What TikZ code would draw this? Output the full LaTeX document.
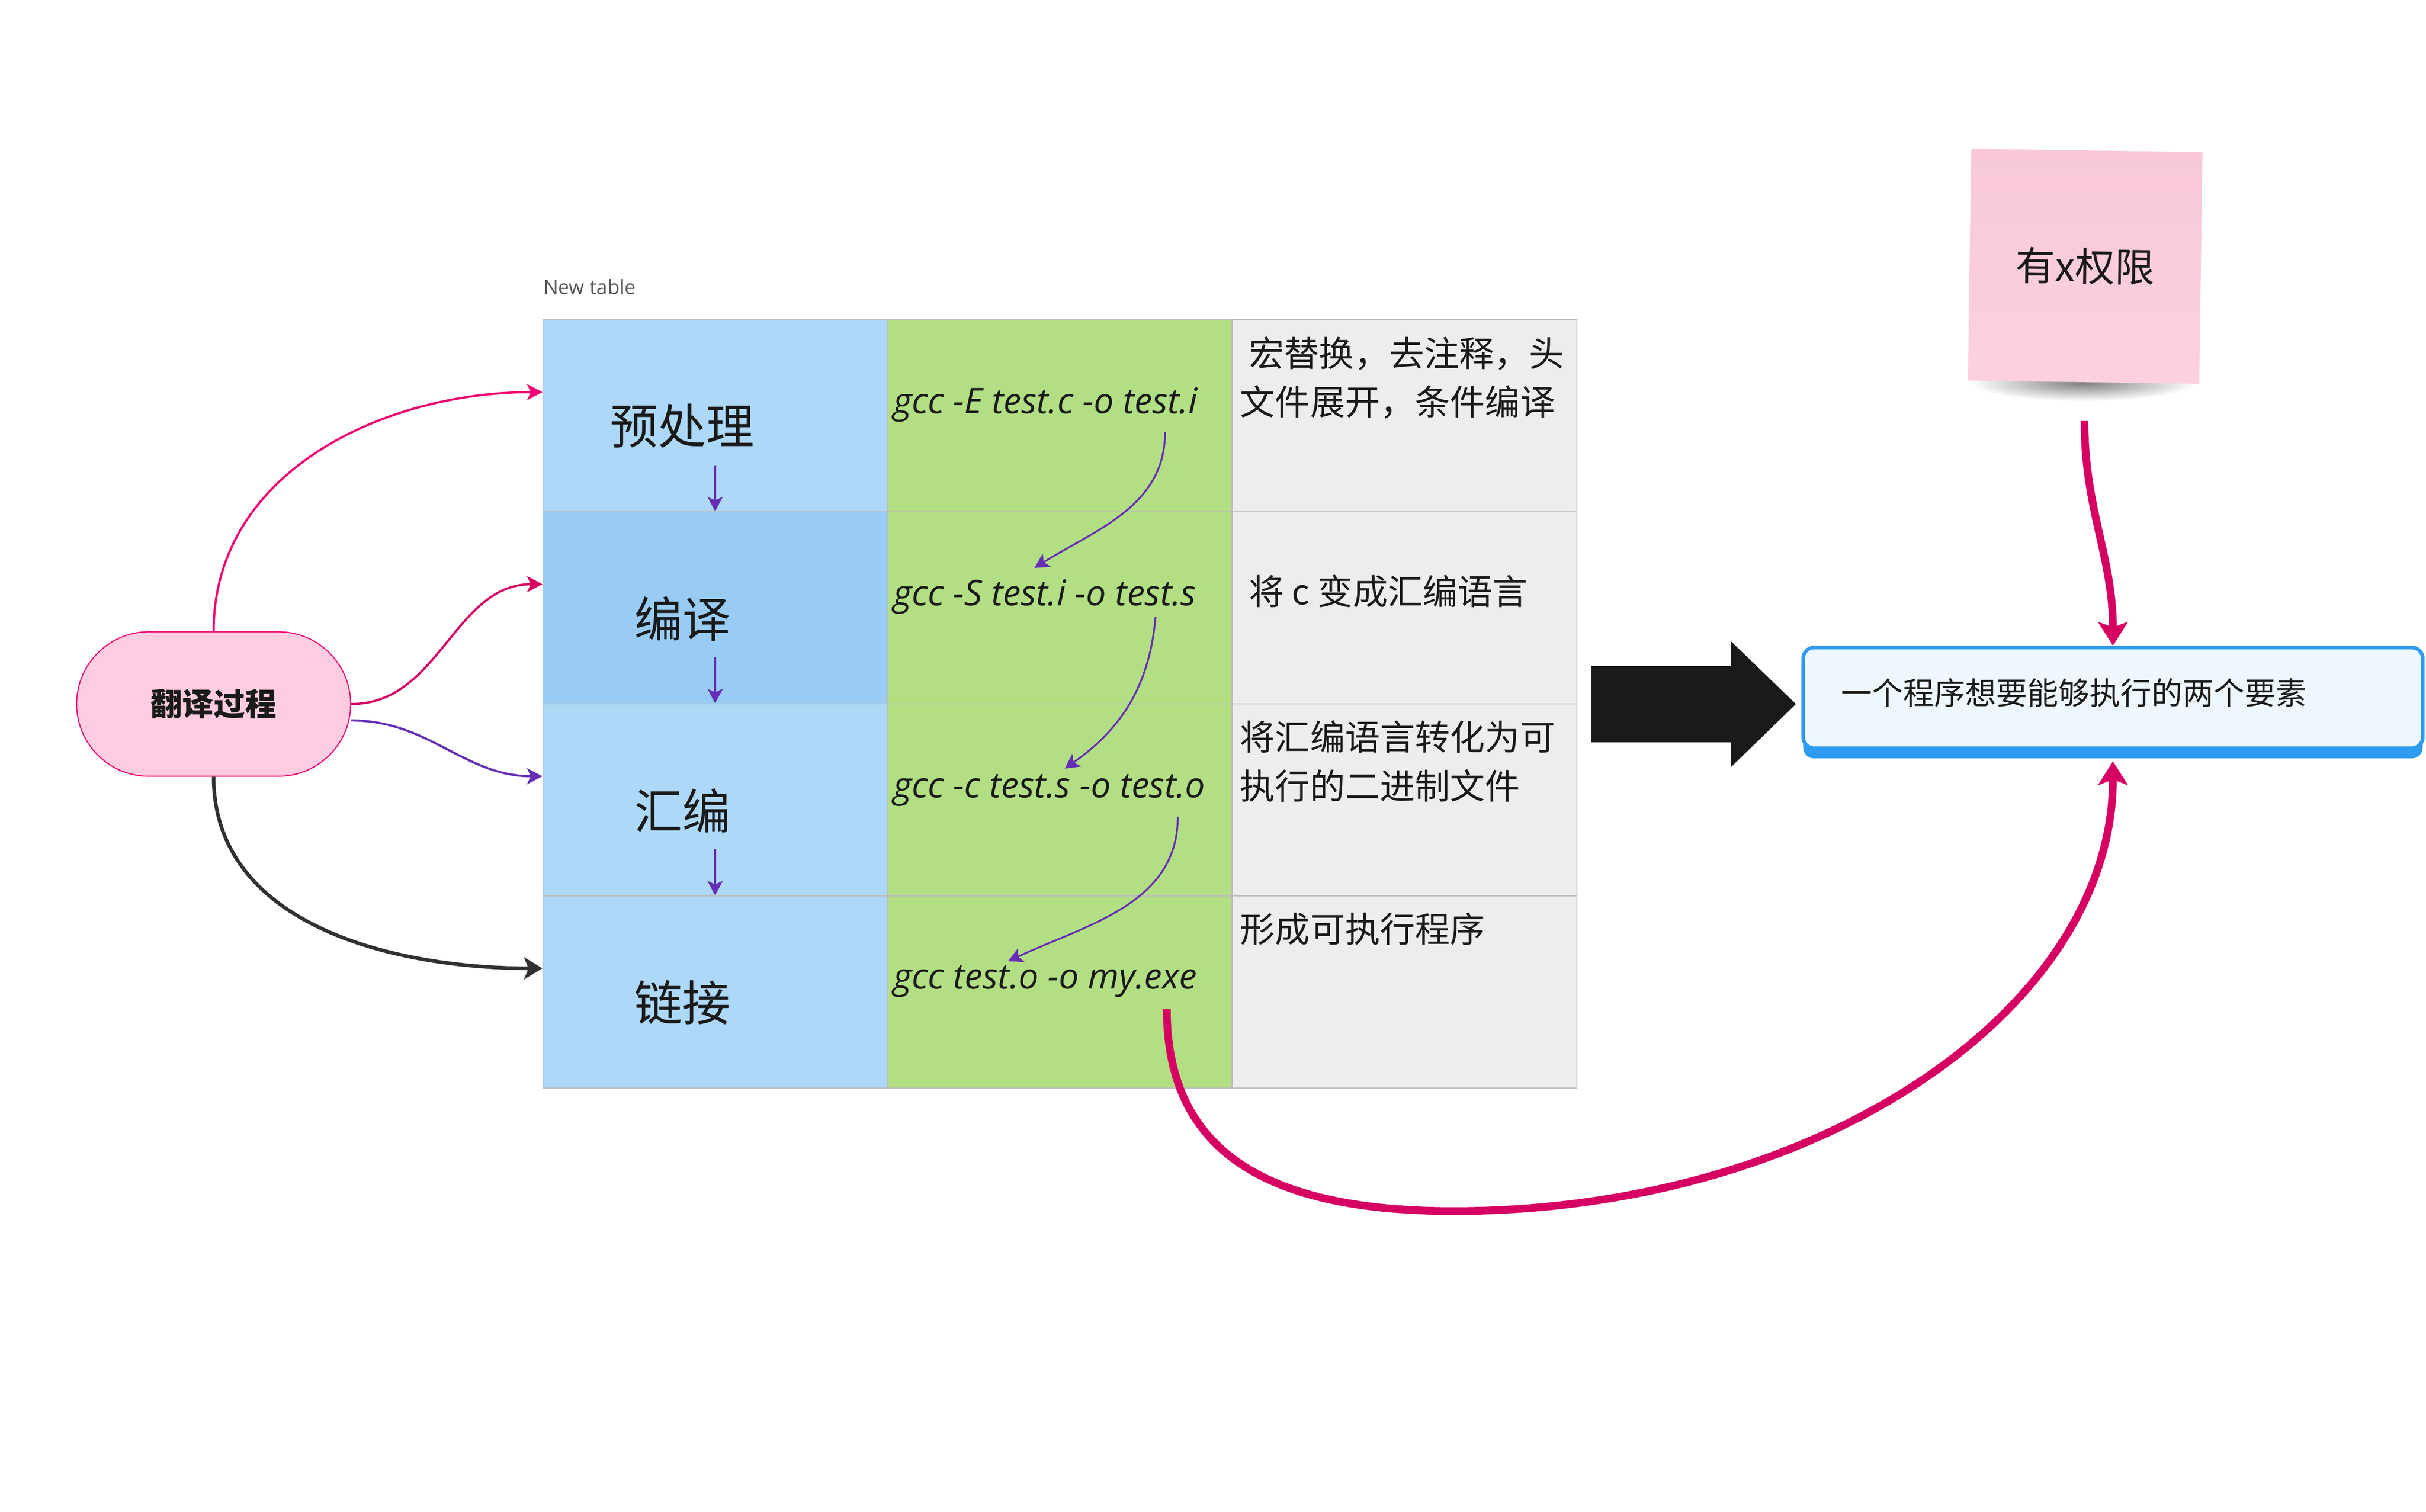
\documentclass[tikz,border=0pt]{standalone}
\usepackage{fontspec}
\setmainfont{Noto Sans CJK SC}
\newfontfamily\latinfont{Open Sans}
\usepackage{tikz}
\usetikzlibrary{arrows.meta}
\usetikzlibrary{calc}
\usetikzlibrary{shadows}
\usetikzlibrary{positioning}

\definecolor{cellblue}{RGB}{173,216,247}
\definecolor{cellbluedark}{RGB}{152,204,244}
\definecolor{cellgreen}{RGB}{178,223,132}
\definecolor{cellgrey}{RGB}{237,237,237}
\definecolor{gridgrey}{RGB}{188,188,188}
\definecolor{inkblack}{RGB}{26,26,26}
\definecolor{captiongrey}{RGB}{85,85,85}
\definecolor{pinkA}{RGB}{240,0,112}
\definecolor{pinkB}{RGB}{214,0,98}
\definecolor{flowpurple}{RGB}{102,45,180}
\definecolor{procfill}{RGB}{255,204,225}
\definecolor{boxblue}{RGB}{45,155,240}
\definecolor{boxfill}{RGB}{238,246,254}
\definecolor{notefill}{RGB}{253,208,225}
\definecolor{notetop}{RGB}{248,200,216}

\tikzset{
  cell/.style={rectangle, draw=gridgrey, line width=0.85pt, minimum width=9.44cm, minimum height=5.265cm, inner sep=0pt},
  stagetext/.style={inner sep=0pt, text=inkblack, font=\fontsize{37.5}{45}\selectfont},
  cmdtext/.style={anchor=base west, inner sep=0pt, text=inkblack, font=\latinfont\itshape\fontsize{27.7}{33}\selectfont},
  desctext/.style={anchor=north west, inner sep=0pt, align=left, text=inkblack, font=\fontsize{27.3}{38}\selectfont},
  flow/.style={draw=flowpurple, line width=1.4pt, -{Stealth[length=0.4cm, width=0.42cm, inset=0.1cm]}},
  feed/.style={line width=1.7pt, -{Stealth[length=0.42cm, width=0.44cm, inset=0.1cm]}},
  bigpink/.style={draw=pinkB, line width=6pt, -{Stealth[length=0.65cm, width=0.81cm, inset=0.15cm]}}
}

\begin{document}
\begin{tikzpicture}
	\useasboundingbox (0,0) rectangle (66.49,-41.44);

	% table cells
	\begin{scope}[every node/.style={cell}]
		\node[fill=cellblue] (s1) at (19.60,-11.40) {};
		\node[fill=cellbluedark] (s2) at (19.60,-16.665) {};
		\node[fill=cellblue] (s3) at (19.60,-21.93) {};
		\node[fill=cellblue] (s4) at (19.60,-27.195) {};
		\node[fill=cellgreen] (g1) at (29.045,-11.40) {};
		\node[fill=cellgreen] (g2) at (29.045,-16.665) {};
		\node[fill=cellgreen] (g3) at (29.045,-21.93) {};
		\node[fill=cellgreen] (g4) at (29.045,-27.195) {};
		\node[fill=cellgrey] (d1) at (38.495,-11.40) {};
		\node[fill=cellgrey] (d2) at (38.495,-16.665) {};
		\node[fill=cellgrey] (d3) at (38.495,-21.93) {};
		\node[fill=cellgrey] (d4) at (38.495,-27.195) {};
	\end{scope}

	\node[anchor=base west, inner sep=0pt, text=captiongrey, font=\latinfont\fontsize{15.4}{19}\selectfont] (caption) at (14.89,-8.07) {New table};

	\node[stagetext] (t1) at (18.70,-11.67) {预处理};
	\node[stagetext] (t2) at (18.70,-16.96) {编译};
	\node[stagetext] (t3) at (18.70,-22.22) {汇编};
	\node[stagetext] (t4) at (18.70,-27.48) {链接};

	\node[cmdtext] (c1) at (24.48,-11.33) {gcc -E test.c -o test.i};
	\node[cmdtext] (c2) at (24.48,-16.60) {gcc -S test.i -o test.s};
	\node[cmdtext] (c3) at (24.48,-21.87) {gcc -c test.s -o test.o};
	\node[cmdtext] (c4) at (24.48,-27.11) {gcc test.o -o my.exe};

	\node[desctext] (x1) at (33.98,-9.22) {\hspace*{0.26em}宏替换，去注释，头\\文件展开，条件编译};
	\node[desctext] (x2) at (33.98,-15.75) {\hspace*{0.26em}将 c 变成汇编语言};
	\node[desctext] (x3) at (33.98,-19.75) {将汇编语言转化为可\\执行的二进制文件};
	\node[desctext] (x4) at (33.98,-25.01) {形成可执行程序};

	\draw[flow] ([yshift=1.3cm]s1.south) -- (s2.north);
	\draw[flow] ([yshift=1.3cm]s2.south) -- (s3.north);
	\draw[flow] ([yshift=1.3cm]s3.south) -- (s4.north);

	\coordinate (e1) at (31.93,-11.85);
	\coordinate (e1tip) at (28.35,-15.57);
	\coordinate (e2) at (31.67,-16.91);
	\coordinate (e2tip) at (29.18,-21.07);
	\coordinate (e3) at (32.28,-22.39);
	\coordinate (e3tip) at (27.63,-26.35);
	\draw[flow] (e1) to[out=-90, in=32] (e1tip);
	\draw[flow] (e2) to[out=-95, in=35] (e2tip);
	\draw[flow] (e3) to[out=-90, in=25] (e3tip);

	% process node
	\node[rectangle, rounded corners=1.98cm, minimum width=7.51cm, minimum height=3.96cm, fill=procfill, draw=pinkA, line width=0.85pt, text=inkblack, font=\bfseries\fontsize{24.5}{29}\selectfont] (proc) at (5.855,-19.30) {翻译过程};

	\draw[feed, draw=pinkA] (proc.north) to[out=90, in=180] ([yshift=0.65cm]s1.west);
	\draw[feed, draw=pinkB] (proc.east) to[out=0, in=180] ([yshift=0.65cm]s2.west);
	\draw[feed, draw=flowpurple] ([yshift=-0.45cm]proc.east) to[out=0, in=180] ([yshift=0.65cm]s3.west);
	\draw[draw=inkblack!90, line width=2.8pt, -{Stealth[length=0.5cm, width=0.6cm, inset=0.12cm]}] (proc.south) to[out=-90, in=180] ([yshift=0.65cm]s4.west);

	% big arrow
	\fill[inkblack] (43.62,-18.26) -- (47.44,-18.26) -- (47.44,-17.58) -- (49.22,-19.30) -- (47.44,-21.03) -- (47.44,-20.35) -- (43.62,-20.35) -- cycle;

	% goal box
	\node[rectangle, rounded corners=0.3cm, draw=boxblue, line width=2.8pt, fill=boxfill, minimum width=16.98cm, minimum height=2.76cm, text width=14.9cm, align=left, text depth=0.34cm, text=inkblack, font=\fontsize{24.2}{29}\selectfont, drop shadow={shadow xshift=0cm, shadow yshift=-0.28cm, fill=boxblue, opacity=1}] (goal) at (57.91,-19.13) {一个程序想要能够执行的两个要素};

	% sticky note
	\shade[inner color=black!50, outer color=white] (57.10,-10.50) ellipse (3.1cm and 0.5cm);
	\node[rectangle, minimum width=6.34cm, minimum height=6.35cm, rotate=-0.8, top color=notetop, middle color=notefill, bottom color=notefill, text=inkblack, font=\fontsize{31}{37}\selectfont] (perm) at (57.15,-7.30) {有x权限};

	\coordinate (permout) at (57.13,-11.54);
	\coordinate (exeout) at (31.98,-27.66);
	\coordinate (goalin) at ([yshift=-0.31cm]goal.south);

	\draw[bigpink] (permout) to[out=-90, in=90] (goal.north);
	\draw[bigpink] (exeout) .. controls (31.98,-31.66) and (34.84,-33.20) .. (39.84,-33.20) .. controls (49.82,-33.20) and (57.91,-27.69) .. (goalin);
\end{tikzpicture}
\end{document}
